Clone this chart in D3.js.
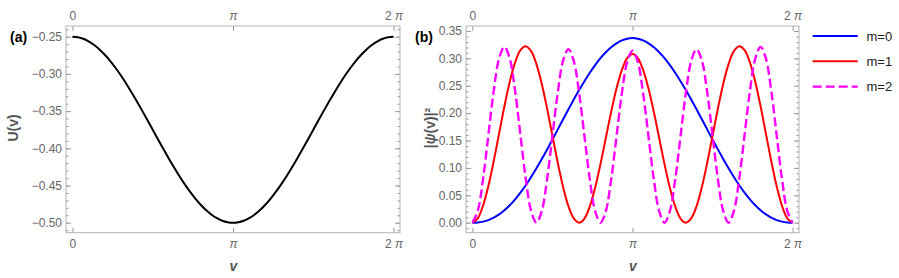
<!DOCTYPE html>
<html><head><meta charset="utf-8">
<script src="https://cdn.jsdelivr.net/npm/d3@7"></script>
<style>
body{margin:0;background:#fff;}
svg{display:block;font-family:"Liberation Sans",Arial,sans-serif;}
</style></head><body>
<svg id="c" width="899" height="278"></svg>
<script>
// sample grid: v = i * pi/30, i = 0..60
const vStep = Math.PI / 30;
const potentialU = [-0.25,-0.2507,-0.2527,-0.2561,-0.2608,-0.2667,-0.2739,-0.2821,-0.2914,-0.3015,-0.3125,-0.3242,-0.3364,-0.3490,-0.3619,-0.375,-0.3881,-0.4010,-0.4136,-0.4258,-0.4375,-0.4485,-0.4586,-0.4679,-0.4761,-0.4833,-0.4892,-0.4939,-0.4973,-0.4993,-0.5,
 -0.4993,-0.4973,-0.4939,-0.4892,-0.4833,-0.4761,-0.4679,-0.4586,-0.4485,-0.4375,-0.4258,-0.4136,-0.4010,-0.3881,-0.375,-0.3619,-0.3490,-0.3364,-0.3242,-0.3125,-0.3015,-0.2914,-0.2821,-0.2739,-0.2667,-0.2608,-0.2561,-0.2527,-0.2507,-0.25];
const psiM0 = [0,0.0004,0.0019,0.0047,0.0091,0.0151,0.0226,0.0318,0.0426,0.0548,0.0684,0.0833,0.0993,0.1162,0.1338,0.1519,0.1703,0.1887,0.2070,0.2248,0.2421,0.2584,0.2737,0.2877,0.3003,0.3112,0.3203,0.3275,0.3328,0.3359,0.3370,
 0.3359,0.3328,0.3275,0.3203,0.3112,0.3003,0.2877,0.2737,0.2584,0.2421,0.2248,0.2070,0.1887,0.1703,0.1519,0.1338,0.1162,0.0993,0.0833,0.0684,0.0548,0.0426,0.0318,0.0226,0.0151,0.0091,0.0047,0.0019,0.0004,0];
const psiM1 = [0,0.0080,0.0312,0.0672,0.1126,0.1627,0.2126,0.2574,0.2927,0.3149,0.3220,0.3132,0.2896,0.2534,0.2083,0.1587,0.1093,0.0650,0.0300,0.0077,0,0.0076,0.0297,0.0640,0.1070,0.1546,0.2021,0.2449,0.2787,0.3005,0.3080,
 0.3005,0.2787,0.2449,0.2021,0.1546,0.1070,0.0640,0.0297,0.0076,0,0.0077,0.0300,0.0650,0.1093,0.1587,0.2083,0.2534,0.2896,0.3132,0.3220,0.3149,0.2927,0.2574,0.2126,0.1627,0.1126,0.0672,0.0312,0.0080,0];
const psiM2 = [0,0.0216,0.0804,0.1608,0.2411,0.2997,0.3210,0.2993,0.2404,0.1601,0.0800,0.0214,0,0.0214,0.0796,0.1590,0.2381,0.2959,0.3167,0.2951,0.2370,0.1578,0.0788,0.0211,0,0.0211,0.0786,0.1571,0.2356,0.2930,0.3140,
 0.2930,0.2356,0.1571,0.0786,0.0211,0,0.0211,0.0788,0.1578,0.2370,0.2951,0.3167,0.2959,0.2381,0.1590,0.0796,0.0214,0,0.0214,0.0800,0.1601,0.2404,0.2993,0.3210,0.2997,0.2411,0.1608,0.0804,0.0216,0];
const legendLabels = ["m=0","m=1","m=2"];
const seriesColors = ["#0000ff","#ff0000","#ff00ff"];
const xTickValues = [0, Math.PI, 2*Math.PI];
const xTickLabels = [["0",""],["","π"],["2 ","π"]];
const yTicksA = [-0.50,-0.45,-0.40,-0.35,-0.30,-0.25];
const yTicksB = [0,0.05,0.10,0.15,0.20,0.25,0.30,0.35];

const svg = d3.select("#c");
const frameColor = "#b4b4b4";
const labelColor = "#666";

function styleAxis(g){
  g.select(".domain").remove();
  g.selectAll(".tick line").attr("stroke", "#999");
  g.selectAll(".tick text").attr("fill", labelColor).attr("font-size", 12);
}

function xLabels(g){
  g.selectAll(".tick text").each(function(d,i){
    const t = d3.select(this); t.text("");
    const parts = xTickLabels[xTickValues.indexOf(d)];
    t.append("tspan").text(parts[0]);
    if(parts[1]) t.append("tspan").attr("font-style","italic").text(parts[1]);
  });
}

function panel(o){
  const x = d3.scaleLinear().domain([-0.04*Math.PI, 2.04*Math.PI]).range([o.x0, o.x1]);
  const y = d3.scaleLinear().domain(o.yd).range([o.y1, o.y0]);
  const g = svg.append("g");
  const minor = d3.range(Math.ceil(o.yd[0]*100), Math.floor(o.yd[1]*100)+1).map(v=>v/100);
  g.append("g").attr("transform",`translate(${o.x0},0)`)
    .call(d3.axisLeft(y).tickValues(minor).tickSize(-2.5).tickFormat(""))
    .call(styleAxis);
  g.append("g").attr("transform",`translate(${o.x1},0)`)
    .call(d3.axisRight(y).tickValues(minor).tickSize(-2.5).tickFormat(""))
    .call(styleAxis);
  g.append("g").attr("transform",`translate(${o.x0},0)`)
    .call(d3.axisLeft(y).tickValues(o.yt).tickSize(-5).tickPadding(4).tickFormat(o.yf))
    .call(styleAxis);
  g.append("g").attr("transform",`translate(${o.x1},0)`)
    .call(d3.axisRight(y).tickValues(o.yt).tickSize(-5).tickFormat(""))
    .call(styleAxis);
  g.append("g").attr("transform",`translate(0,${o.y1})`)
    .call(d3.axisBottom(x).tickValues(xTickValues).tickSize(-5).tickPadding(7))
    .call(styleAxis).call(xLabels);
  g.append("g").attr("transform",`translate(0,${o.y0})`)
    .call(d3.axisTop(x).tickValues(xTickValues).tickSize(-5).tickPadding(6))
    .call(styleAxis).call(xLabels);
  g.append("rect").attr("x",o.x0).attr("y",o.y0).attr("width",o.x1-o.x0).attr("height",o.y1-o.y0)
    .attr("fill","none").attr("stroke",frameColor).attr("stroke-width",1);
  g.append("text").attr("x",(o.x0+o.x1)/2 + 0.5).attr("y",271).attr("text-anchor","middle")
    .attr("font-size",14).attr("font-weight","bold").attr("font-style","italic").attr("fill","#555").text("v");
  g.append("text").attr("transform",`translate(${o.ylx},128) rotate(-90)`).attr("text-anchor","middle")
    .attr("font-size",14).attr("font-weight","bold").attr("fill","#555").html(o.ylab);
  g.append("text").attr("x",o.tagx).attr("y",42).attr("font-size",14).attr("font-weight","bold")
    .attr("fill","#000").text(o.tag);
  return {x,y,g};
}

const fmtA = v => "\u2212" + d3.format(".2f")(-v);
const A = panel({x0:66,x1:400,y0:26,y1:232.7,yd:[-0.5134,-0.2356],yt:yTicksA,yf:fmtA,
  ylab:"U(v)",ylx:18,tag:"(a)",tagx:10});
const B = panel({x0:466,x1:799,y0:26,y1:232.7,yd:[-0.0183,0.3591],yt:yTicksB,yf:d3.format(".2f"),
  ylab:'|<tspan font-style="italic">ψ</tspan>(v)|²',ylx:435,tag:"(b)",tagx:415});

const lineA = d3.line().x((d,i)=>A.x(i*vStep)).y(d=>A.y(d)).curve(d3.curveCatmullRom);
A.g.append("path").attr("d",lineA(potentialU)).attr("fill","none").attr("stroke","#000").attr("stroke-width",2);

const lineB = d3.line().x((d,i)=>B.x(i*vStep)).y(d=>B.y(d)).curve(d3.curveCatmullRom);
const seriesB = [psiM0, psiM1, psiM2];
seriesB.forEach((s,k)=>{
  B.g.append("path").attr("d",lineB(s)).attr("fill","none").attr("stroke",seriesColors[k])
    .attr("stroke-width",k==2?2.4:2).attr("stroke-dasharray",k==2?"9,4":null);
});

const leg = svg.append("g");
legendLabels.forEach((lab,k)=>{
  const yy = 36 + k*25.3;
  leg.append("line").attr("x1",812.7).attr("x2",857.7).attr("y1",yy).attr("y2",yy)
    .attr("stroke",seriesColors[k]).attr("stroke-width",k==2?2.4:2).attr("stroke-dasharray",k==2?"9,4":null);
  leg.append("text").attr("x",866.5).attr("y",yy+4.5).attr("font-size",13).attr("fill","#222").text(lab);
});
</script></body></html>
